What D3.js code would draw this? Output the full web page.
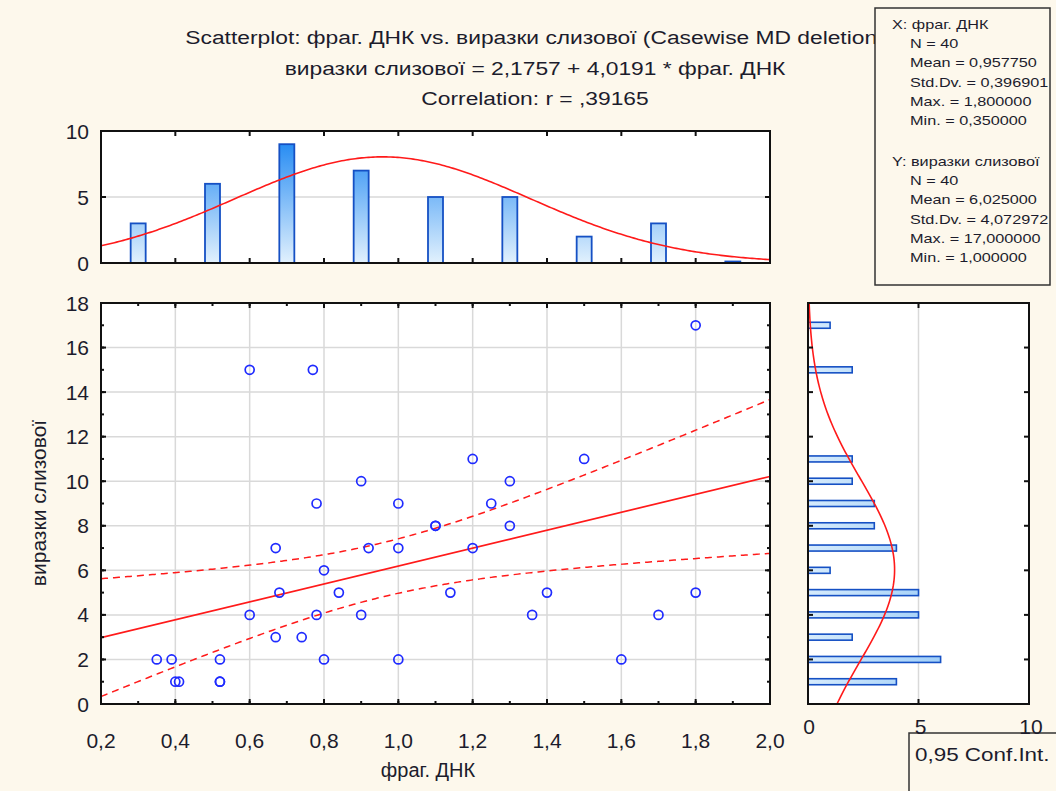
<!DOCTYPE html>
<html>
<head>
<meta charset="utf-8">
<script src="https://cdn.jsdelivr.net/npm/d3@7"></script>
<style>
  body { margin: 0; background: #fdf8ec; }
  text { font-family: "Liberation Sans", Arial, sans-serif; fill: #1c1c2c; }
</style>
</head>
<body>
<svg></svg>
<script>
// raw cases (x = фраг. ДНК, y = виразки слизової)
const fragDNK = [0.35, 0.39, 0.4, 0.41, 0.52, 0.52, 0.52, 0.6, 0.6, 0.67,
  0.67, 0.68, 0.74, 0.77, 0.78, 0.78, 0.8, 0.8, 0.84, 0.9,
  0.9, 0.92, 1.0, 1.0, 1.0, 1.1, 1.1, 1.14, 1.2, 1.2,
  1.25, 1.3, 1.3, 1.36, 1.4, 1.5, 1.6, 1.7, 1.8, 1.8]
const vyrazky = [2, 2, 1, 1, 2, 1, 1, 15, 4, 7,
  3, 5, 3, 15, 9, 4, 6, 2, 5, 10,
  4, 7, 9, 7, 2, 8, 8, 5, 11, 7,
  9, 10, 8, 4, 5, 11, 2, 4, 17, 5]

// histogram of X (bin centres, counts)
const xBins = [0.3, 0.5, 0.7, 0.9, 1.1, 1.3, 1.5, 1.7, 1.9]
const xCounts = [3, 6, 9, 7, 5, 5, 2, 3, 0]
// histogram of Y
const yBins = [1, 2, 3, 4, 5, 6, 7, 8, 9, 10, 11, 12, 13, 14, 15, 16, 17]
const yCounts = [4, 6, 2, 5, 5, 1, 4, 3, 3, 2, 2, 0, 0, 0, 2, 0, 1]

const xStats = {n: 40, mean: 0.95775, sd: 0.396901, binW: 0.2}
const yStats = {n: 40, mean: 6.025, sd: 4.072972, binW: 1}
const intercept = 2.1757, slope = 4.0191

const titleLines = [
  'Scatterplot: фраг. ДНК vs. виразки слизової (Casewise MD deletion)',
  'виразки слизової = 2,1757 + 4,0191 * фраг. ДНК',
  'Correlation: r = ,39165'
]
const statsX = ['X:  фраг. ДНК', 'N = 40', 'Mean = 0,957750', 'Std.Dv. = 0,396901', 'Max. = 1,800000', 'Min. = 0,350000']
const statsY = ['Y:  виразки слизової', 'N = 40', 'Mean = 6,025000', 'Std.Dv. = 4,072972', 'Max. = 17,000000', 'Min. = 1,000000']

const W = 1056, H = 791
const svg = d3.select('svg').attr('width', W).attr('height', H)
const defs = svg.append('defs')

const x = d3.scaleLinear().domain([0.2, 2.0]).range([101, 770])
const y = d3.scaleLinear().domain([0, 18]).range([704, 303])
const yTop = d3.scaleLinear().domain([0, 10]).range([263, 131])
const xRight = d3.scaleLinear().domain([0, 10]).range([808, 1029])

const comma = f => v => d3.format(f)(v).replace('.', ',')
const GRID = '#d9d9d9', RED = '#ff1a1a', BLUE = '#1f2bff'
const TICKFONT = '21px'

function clip(id, x0, y0, x1, y1) {
  defs.append('clipPath').attr('id', id).append('rect')
    .attr('x', x0).attr('y', y0).attr('width', x1 - x0).attr('height', y1 - y0)
}
clip('cScatter', 101, 303, 770, 704)
clip('cTop', 101, 131, 770, 263)
clip('cRight', 808, 303, 1029, 704)

let g = defs.append('linearGradient').attr('id', 'gTop')
  .attr('gradientUnits', 'userSpaceOnUse').attr('x1', 0).attr('x2', 0).attr('y1', 131).attr('y2', 263)
g.append('stop').attr('offset', 0).attr('stop-color', '#1482f2')
g.append('stop').attr('offset', 1).attr('stop-color', '#e2f1fd')
g = defs.append('linearGradient').attr('id', 'gRight')
  .attr('gradientUnits', 'userSpaceOnUse').attr('x1', 808).attr('x2', 1029).attr('y1', 0).attr('y2', 0)
g.append('stop').attr('offset', 0).attr('stop-color', '#d6ebfc')
g.append('stop').attr('offset', 1).attr('stop-color', '#7dbcf5')

function panelBg(x0, y0, x1, y1) {
  svg.append('rect').attr('x', x0).attr('y', y0).attr('width', x1 - x0).attr('height', y1 - y0)
    .attr('fill', '#fff')
}
function frame(x0, y0, x1, y1) {
  svg.append('rect').attr('x', x0).attr('y', y0).attr('width', x1 - x0).attr('height', y1 - y0)
    .attr('fill', 'none').attr('stroke', '#111').attr('stroke-width', 2)
}
function vticks(vals, sx, y0, y1, len) {
  vals.forEach(v => {
    svg.append('line').attr('x1', sx(v)).attr('x2', sx(v)).attr('y1', y0).attr('y2', y0 + len).attr('stroke', '#111').attr('stroke-width', 2)
    svg.append('line').attr('x1', sx(v)).attr('x2', sx(v)).attr('y1', y1).attr('y2', y1 - len).attr('stroke', '#111').attr('stroke-width', 2)
  })
}
function hticks(vals, sy, x0, x1, len) {
  vals.forEach(v => {
    svg.append('line').attr('y1', sy(v)).attr('y2', sy(v)).attr('x1', x0).attr('x2', x0 + len).attr('stroke', '#111').attr('stroke-width', 2)
    svg.append('line').attr('y1', sy(v)).attr('y2', sy(v)).attr('x1', x1).attr('x2', x1 - len).attr('stroke', '#111').attr('stroke-width', 2)
  })
}
// text stretched horizontally (the original is a widened screenshot)
function wideText(parent, tx, ty, sx, str, size, anchor) {
  return parent.append('text').attr('transform', `translate(${tx},${ty}) scale(${sx},1)`)
    .attr('text-anchor', anchor || 'start').style('font-size', size).text(str)
}
const normal = (m, s) => v => Math.exp(-((v - m) ** 2) / (2 * s * s)) / (s * Math.sqrt(2 * Math.PI))

// ---------- title ----------
titleLines.forEach((t, i) => wideText(svg, 535, 44 + i * 30.5, 1.2, t, '19px', 'middle'))

// ---------- top histogram ----------
panelBg(101, 131, 770, 263)
svg.append('line').attr('x1', 101).attr('x2', 770).attr('y1', yTop(5)).attr('y2', yTop(5))
  .attr('stroke', GRID).attr('stroke-width', 1.5)
svg.append('g').selectAll('rect').data(xBins).enter().append('rect')
  .attr('x', d => x(d) - 7.5).attr('width', 15)
  .attr('y', (d, i) => Math.min(yTop(xCounts[i]), yTop(0) - 1.5))
  .attr('height', (d, i) => Math.max(yTop(0) - yTop(xCounts[i]), 1.5))
  .attr('fill', 'url(#gTop)').attr('stroke', '#1550c4').attr('stroke-width', 1.8)
const fx = normal(xStats.mean, xStats.sd)
const xs = d3.range(0, 301).map(i => 0.2 + i * 1.8 / 300)
svg.append('path').attr('clip-path', 'url(#cTop)')
  .attr('d', d3.line().x(d => x(d)).y(d => yTop(xStats.n * xStats.binW * fx(d)))(xs))
  .attr('fill', 'none').attr('stroke', RED).attr('stroke-width', 1.6)
frame(101, 131, 770, 263)
vticks(x.ticks(10).slice(1, -1), x, 131, 263, 5)
hticks([5], yTop, 101, 770, 5)
svg.append('g').selectAll('text').data(yTop.ticks(2)).enter().append('text')
  .attr('x', 89).attr('y', d => yTop(d) + 7.5).attr('text-anchor', 'end')
  .style('font-size', TICKFONT).text(d => d)

// ---------- scatterplot ----------
panelBg(101, 303, 770, 704)
const gx = x.ticks(10).slice(1, -1), gy = y.ticks(10).slice(1, -1)
svg.append('g').selectAll('line').data(gx).enter().append('line')
  .attr('x1', d => x(d)).attr('x2', d => x(d)).attr('y1', 303).attr('y2', 704)
  .attr('stroke', GRID).attr('stroke-width', 1.5)
svg.append('g').selectAll('line').data(gy).enter().append('line')
  .attr('y1', d => y(d)).attr('y2', d => y(d)).attr('x1', 101).attr('x2', 770)
  .attr('stroke', GRID).attr('stroke-width', 1.5)

// regression line + 95% confidence band of the mean
const n = fragDNK.length
const mx = d3.mean(fragDNK)
const sxx = d3.sum(fragDNK, v => (v - mx) ** 2)
const sse = d3.sum(fragDNK, (v, i) => (vyrazky[i] - (intercept + slope * v)) ** 2)
const se = Math.sqrt(sse / (n - 2))
const tCrit = 2.0244
const band = sgn => v => intercept + slope * v + sgn * tCrit * se * Math.sqrt(1 / n + (v - mx) ** 2 / sxx)
const sg = svg.append('g').attr('clip-path', 'url(#cScatter)')
sg.append('path').attr('d', d3.line().x(d => x(d)).y(d => y(intercept + slope * d))([0.2, 2.0]))
  .attr('fill', 'none').attr('stroke', RED).attr('stroke-width', 1.7)
;[-1, 1].forEach(sgn => {
  sg.append('path').attr('d', d3.line().x(d => x(d)).y(d => y(band(sgn)(d)))(xs))
    .attr('fill', 'none').attr('stroke', RED).attr('stroke-width', 1.5).attr('stroke-dasharray', '7,5')
})
sg.append('g').selectAll('circle').data(fragDNK).enter().append('circle')
  .attr('cx', d => x(d)).attr('cy', (d, i) => y(vyrazky[i])).attr('r', 4.5)
  .attr('fill', 'none').attr('stroke', BLUE).attr('stroke-width', 1.7)

frame(101, 303, 770, 704)
vticks(x.ticks(20), x, 303, 704, 3)
vticks(gx, x, 303, 704, 5)
hticks(y.ticks(20), y, 101, 770, 3)
hticks(gy, y, 101, 770, 5)
svg.append('g').selectAll('text').data(y.ticks(10)).enter().append('text')
  .attr('x', 89).attr('y', d => y(d) + 7.5).attr('text-anchor', 'end')
  .style('font-size', TICKFONT).text(d => d)
svg.append('g').selectAll('text').data(x.ticks(10)).enter().append('text')
  .attr('x', d => x(d)).attr('y', 748).attr('text-anchor', 'middle')
  .style('font-size', TICKFONT).text(comma('.1f'))
svg.append('text').attr('x', 428).attr('y', 777).attr('text-anchor', 'middle')
  .style('font-size', '20px').text('фраг. ДНК')
svg.append('text').attr('transform', 'translate(46,503) rotate(-90)').attr('text-anchor', 'middle')
  .style('font-size', '21px').text('виразки слизової')

// ---------- right histogram ----------
panelBg(808, 303, 1029, 704)
svg.append('line').attr('x1', xRight(5)).attr('x2', xRight(5)).attr('y1', 303).attr('y2', 704)
  .attr('stroke', GRID).attr('stroke-width', 1.5)
svg.append('g').selectAll('rect').data(yBins).enter().append('rect')
  .attr('x', xRight(0)).attr('width', (d, i) => xRight(yCounts[i]) - xRight(0))
  .attr('y', d => y(d) - 3).attr('height', 6)
  .attr('fill', 'url(#gRight)').attr('stroke', '#1550c4').attr('stroke-width', 1.6)
const fy = normal(yStats.mean, yStats.sd)
const ys = d3.range(0, 181).map(i => i * 18 / 180)
svg.append('path').attr('clip-path', 'url(#cRight)')
  .attr('d', d3.line().y(d => y(d)).x(d => xRight(yStats.n * yStats.binW * fy(d)))(ys))
  .attr('fill', 'none').attr('stroke', RED).attr('stroke-width', 1.6)
frame(808, 303, 1029, 704)
vticks([5], xRight, 303, 704, 5)
hticks(gy, y, 808, 1029, 5)

// ---------- descriptive stats box ----------
svg.append('rect').attr('x', 875).attr('y', 8).attr('width', 175).attr('height', 277)
  .attr('fill', '#fdf8ec').attr('stroke', '#333').attr('stroke-width', 1.5)
;[statsX, statsY].forEach((lines, k) => {
  lines.forEach((t, i) => wideText(svg, i === 0 ? 892 : 910, 29 + k * 137 + i * 19.2, 1.3, t, '12.5px'))
})

// ---------- legend ----------
svg.append('rect').attr('x', 909).attr('y', 733).attr('width', 170).attr('height', 80)
  .attr('fill', '#fdf8ec').attr('stroke', '#333').attr('stroke-width', 1.5)
wideText(svg, 915, 761, 1.18, '0,95 Conf.Int.', '19px')

// right histogram tick labels sit just above the legend box
svg.append('g').selectAll('text').data(xRight.ticks(2)).enter().append('text')
  .attr('x', d => xRight(d) + (d === 0 ? 1 : 2)).attr('y', 734).attr('text-anchor', 'middle')
  .style('font-size', TICKFONT).text(d => d)
</script>
</body>
</html>
